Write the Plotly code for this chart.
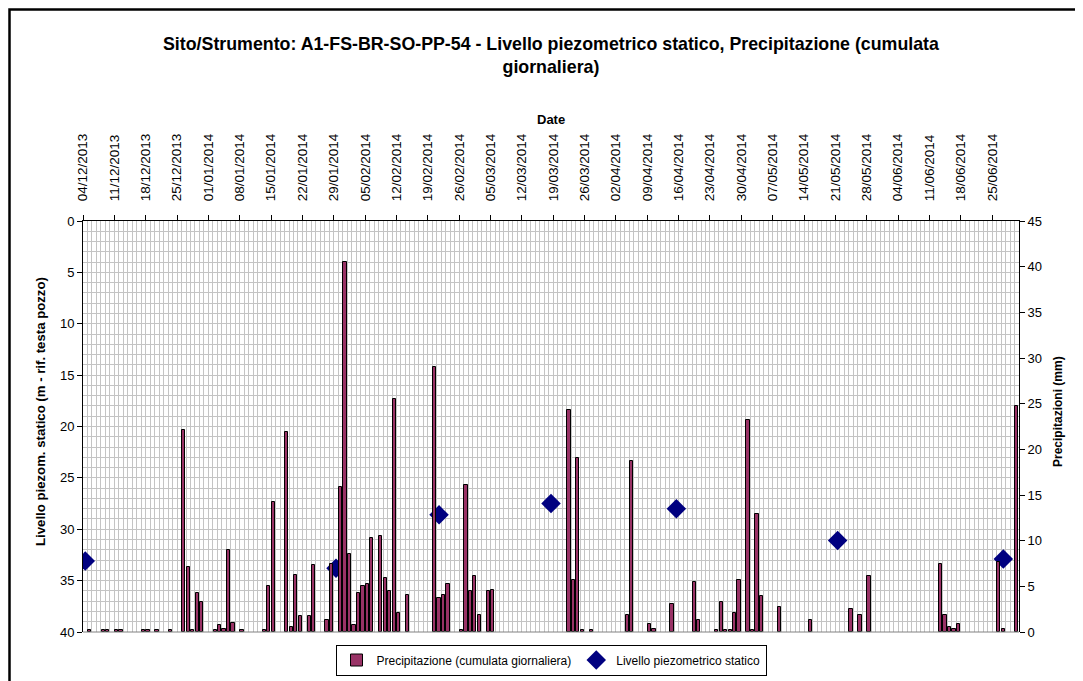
import pandas as pd
import plotly.graph_objects as go

# ---------------- data ----------------
precip_dates = ["2013-12-05","2013-12-08","2013-12-09","2013-12-11","2013-12-12","2013-12-17","2013-12-18",
                "2013-12-20","2013-12-23","2013-12-26","2013-12-27","2013-12-28","2013-12-29","2013-12-30",
                "2014-01-02","2014-01-03","2014-01-04","2014-01-05","2014-01-06","2014-01-08","2014-01-13",
                "2014-01-14","2014-01-15","2014-01-18","2014-01-19","2014-01-20","2014-01-21","2014-01-23",
                "2014-01-24","2014-01-27","2014-01-28","2014-01-30","2014-01-31","2014-02-01","2014-02-02",
                "2014-02-03","2014-02-04","2014-02-05","2014-02-06","2014-02-08","2014-02-09","2014-02-10",
                "2014-02-11","2014-02-12","2014-02-14","2014-02-20","2014-02-21","2014-02-22","2014-02-23",
                "2014-02-26","2014-02-27","2014-02-28","2014-03-01","2014-03-02","2014-03-04","2014-03-05",
                "2014-03-22","2014-03-23","2014-03-24","2014-03-25","2014-03-27","2014-04-04","2014-04-05",
                "2014-04-09","2014-04-10","2014-04-14","2014-04-19","2014-04-20","2014-04-24","2014-04-25",
                "2014-04-26","2014-04-27","2014-04-28","2014-04-29","2014-05-01","2014-05-02","2014-05-03",
                "2014-05-04","2014-05-08","2014-05-15","2014-05-24","2014-05-26","2014-05-28","2014-06-13",
                "2014-06-14","2014-06-15","2014-06-16","2014-06-17","2014-06-26","2014-06-27","2014-06-30"]
precip_mm = [0.2, 0.2, 0.2, 0.2, 0.2, 0.2, 0.2,
             0.2, 0.2, 22.1, 7.1, 0.2, 4.3, 3.3,
             0.2, 0.8, 0.3, 9.0, 1.0, 0.2, 0.2,
             5.0, 14.2, 21.9, 0.6, 6.2, 1.8, 1.8,
             7.3, 1.3, 7.5, 15.9, 40.5, 8.5, 0.8,
             4.3, 5.0, 5.3, 10.3, 10.5, 5.9, 4.5,
             25.5, 2.1, 4.1, 29.0, 3.7, 4.1, 5.3,
             0.2, 16.1, 4.5, 6.1, 1.9, 4.5, 4.6,
             24.3, 5.7, 19.1, 0.2, 0.2, 1.9, 18.7,
             0.9, 0.3, 3.1, 5.5, 1.3, 0.2, 3.3,
             0.2, 0.2, 2.1, 5.7, 23.2, 0.2, 12.9,
             3.9, 2.7, 1.3, 2.5, 1.9, 6.1, 7.5,
             1.9, 0.5, 0.3, 0.9, 7.7, 0.3, 24.7]

level_dates = ["2013-12-04", "2014-01-29", "2014-02-21", "2014-03-18", "2014-04-15", "2014-05-21", "2014-06-27"]
level_m = [33.1, 33.8, 28.6, 27.5, 28.0, 31.1, 32.9]

tick_labels = ["04/12/2013", "11/12/2013", "18/12/2013", "25/12/2013", "01/01/2014", "08/01/2014",
               "15/01/2014", "22/01/2014", "29/01/2014", "05/02/2014", "12/02/2014", "19/02/2014",
               "26/02/2014", "05/03/2014", "12/03/2014", "19/03/2014", "26/03/2014", "02/04/2014",
               "09/04/2014", "16/04/2014", "23/04/2014", "30/04/2014", "07/05/2014", "14/05/2014",
               "21/05/2014", "28/05/2014", "04/06/2014", "11/06/2014", "18/06/2014", "25/06/2014"]

title_text = ("Sito/Strumento: A1-FS-BR-SO-PP-54 - Livello piezometrico statico, Precipitazione (cumulata"
              "<br>giornaliera)")
x_title = "Date"
y_title = "Livello piezom. statico (m - rif. testa pozzo)"
y2_title = "Precipitazioni (mm)"

# ---------------- figure ----------------
FONT = "Liberation Sans, Arial, sans-serif"
DAY_MS = 86400000
half_day = pd.Timedelta(hours=12)
tick_pos = [(pd.to_datetime(t, format="%d/%m/%Y") - half_day).strftime("%Y-%m-%d %H:%M") for t in tick_labels]
x_start = (pd.to_datetime(tick_labels[0], format="%d/%m/%Y") - half_day).strftime("%Y-%m-%d %H:%M")
x_end = (pd.to_datetime("2014-07-01") - half_day).strftime("%Y-%m-%d %H:%M")

W, H = 1075, 673          # page body has an 8px default margin
ML, MR, MT, MB = 75, 64, 213, 49
PW, PH = W - ML - MR, H - MT - MB
OFF = 8


def px_x(sx):  # screen x -> paper x
    return (sx - OFF - ML) / PW


def px_y(sy):  # screen y -> paper y
    return (MT + PH - (sy - OFF)) / PH


fig = go.Figure()
fig.add_trace(go.Bar(
    x=precip_dates, y=precip_mm, yaxis="y2",
    name="Precipitazione (cumulata giornaliera)",
    width=0.72 * DAY_MS,
    marker=dict(color="#993366", line=dict(color="#000000", width=1)),
))
fig.add_trace(go.Scatter(
    x=level_dates, y=level_m, yaxis="y", mode="markers",
    name="Livello piezometrico statico",
    marker=dict(symbol="diamond", size=15, color="#000080", line=dict(width=0)),
))

grid_col = "#c4c4c4"
fig.update_layout(
    width=W, height=H,
    margin=dict(l=ML, r=MR, t=MT, b=MB, autoexpand=False),
    paper_bgcolor="white", plot_bgcolor="white",
    font=dict(family=FONT, size=12, color="black"),
    showlegend=True,
    legend=dict(orientation="h", x=0.5, xanchor="center", y=px_y(660), yanchor="middle",
                bordercolor="black", borderwidth=1, bgcolor="white",
                font=dict(family=FONT, size=12), traceorder="normal",
                itemwidth=30, tracegroupgap=0),
    bargap=0,
    xaxis=dict(
        type="date", side="top", range=[x_start, x_end],
        tickmode="array", tickvals=tick_pos, ticktext=tick_labels, tickangle=-90,
        ticks="outside", ticklen=5, tickcolor="black", ticklabelstandoff=11,
        tickfont=dict(size=13.5),
        showline=True, linecolor="black", linewidth=1,
        showgrid=True, gridcolor=grid_col, gridwidth=1,
        minor=dict(tickmode="linear", tick0=x_start, dtick=DAY_MS, showgrid=True,
                   gridcolor=grid_col, gridwidth=1, ticks=""),
        zeroline=False, automargin=False,
    ),
    yaxis=dict(
        range=[40, 0], tickmode="linear", tick0=0, dtick=5,
        ticks="outside", ticklen=5, tickcolor="black", tickfont=dict(size=13),
        showline=True, linecolor="black", linewidth=1,
        showgrid=True, gridcolor=grid_col, gridwidth=1,
        minor=dict(dtick=1, showgrid=True, gridcolor=grid_col, gridwidth=1, ticks=""),
        zeroline=False, automargin=False,
    ),
    yaxis2=dict(
        overlaying="y", side="right", range=[0, 45], tickmode="linear", tick0=0, dtick=5,
        ticks="outside", ticklen=5, tickcolor="black", tickfont=dict(size=13),
        showline=True, linecolor="black", linewidth=1, showgrid=False,
        zeroline=False, automargin=False,
    ),
    annotations=[
        dict(text="<b>" + title_text + "</b>", xref="paper", yref="paper",
             x=px_x(551), y=px_y(56), xanchor="center", yanchor="middle", showarrow=False,
             font=dict(family=FONT, size=17.8, color="black")),
        dict(text="<b>" + x_title + "</b>", xref="paper", yref="paper",
             x=px_x(551), y=px_y(119), xanchor="center", yanchor="middle", showarrow=False,
             font=dict(family=FONT, size=13, color="black")),
        dict(text="<b>" + y_title + "</b>", xref="paper", yref="paper", textangle=-90,
             x=px_x(40), y=px_y(412), xanchor="center", yanchor="middle", showarrow=False,
             font=dict(family=FONT, size=13.2, color="black")),
        dict(text="<b>" + y2_title + "</b>", xref="paper", yref="paper", textangle=-90,
             x=px_x(1058), y=px_y(412), xanchor="center", yanchor="middle", showarrow=False,
             font=dict(family=FONT, size=12, color="black")),
    ],
    shapes=[
        dict(type="line", xref="paper", yref="paper", x0=0, x1=1, y0=0, y1=0,
             line=dict(color="#808080", width=1)),
        dict(type="rect", xref="paper", yref="paper",
             x0=(1.5 - ML) / PW, x1=(W + 40 - ML) / PW,
             y0=-(H + 40 - (MT + PH)) / PH, y1=(MT + PH - 1.5) / PH,
             line=dict(color="black", width=2.5), fillcolor="rgba(0,0,0,0)", layer="above"),
    ],
)

fig.write_html("out.html")
